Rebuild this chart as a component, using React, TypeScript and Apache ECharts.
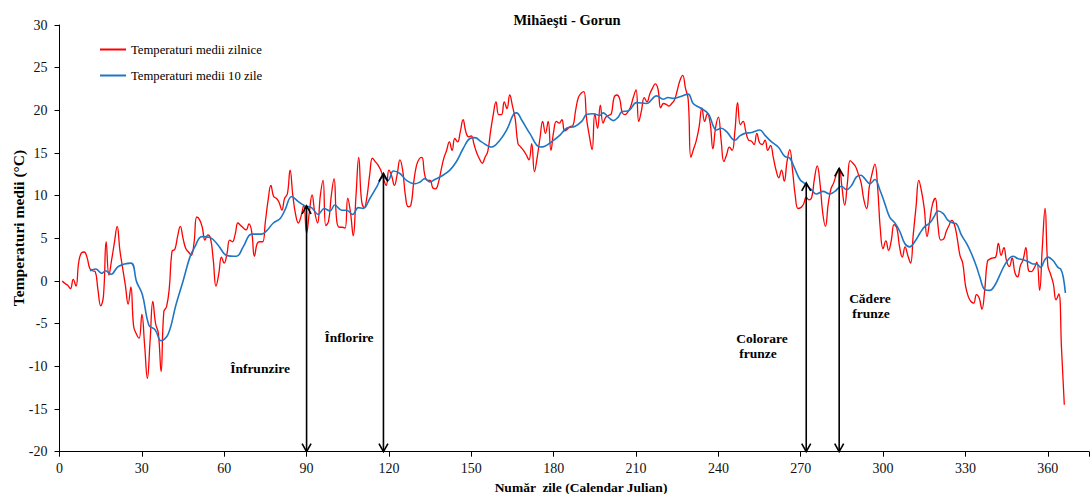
import React, { useEffect, useRef } from "react";
import * as echarts from "echarts";

// Daily mean temperatures, days 1..366
const dailyTemps = [
  0.0, -0.3, -0.5, -0.9, 0.2, -0.6, 2.2, 3.3, 3.4, 2.8,
  1.5, 1.2, 1.1, -1.0, -2.9, -1.8, 4.6, 0.7, 2.5, 4.5,
  6.4, 3.6, 1.5, -0.5, -2.7, -0.7, -5.3, -6.2, -6.7, -3.9,
  -7.5, -11.4, -7.0, -2.4, -5.0, -6.1, -10.6, -3.6, -3.0, -0.8,
  3.5, 3.7, 5.2, 6.4, 5.0, 3.8, 3.4, 3.0, 4.5, 7.5,
  7.2, 6.3, 4.8, 5.4, 5.0, 2.5, -0.6, 0.8, 2.8, 2.1,
  3.2, 4.8, 4.6, 5.5, 6.8, 6.5, 6.2, 6.0, 6.7, 5.8,
  2.9, 4.4, 4.6, 4.6, 7.0, 9.5, 11.2, 9.9, 9.7, 9.2,
  8.3, 9.7, 10.2, 13.0, 10.0, 7.8, 6.8, 7.6, 8.9, 5.6,
  8.0, 10.1, 8.0, 6.8, 10.0, 11.8, 6.5, 7.0, 10.0, 12.0,
  7.0, 6.3, 6.3, 6.2, 9.7, 8.0, 5.3, 10.0, 14.5, 9.5,
  8.6, 9.9, 12.5, 14.4, 14.0, 13.6, 13.0, 12.0, 11.2, 13.0,
  12.3, 11.2, 12.5, 14.2, 13.0, 10.0, 8.7, 8.9, 11.5, 13.5,
  14.3, 14.5, 12.5, 11.8, 11.8, 10.9, 10.8, 11.5, 13.0, 14.4,
  15.3, 16.3, 15.3, 16.7, 16.3, 17.5, 18.9, 17.5, 16.9, 17.0,
  16.0, 15.0, 14.3, 13.8, 14.5, 15.2, 17.5, 19.5, 21.0, 19.5,
  19.5, 21.0, 20.2, 21.8, 20.5, 19.0, 16.1, 15.7, 15.3, 14.8,
  14.2, 16.1, 12.8, 14.5, 16.7, 18.7, 17.3, 18.7, 15.3, 17.5,
  18.7, 18.5, 18.9, 17.6, 17.8, 18.1, 18.2, 20.0, 21.5, 22.0,
  22.2, 19.0, 17.0, 15.4, 19.6, 17.9, 20.6, 18.5, 19.2, 19.4,
  19.6, 21.5, 21.8, 21.4, 19.7, 19.5, 19.8, 20.4, 21.5, 22.4,
  18.7, 20.0, 21.5, 21.0, 21.9, 22.6, 23.1, 22.5, 20.3, 20.8,
  20.7, 20.5, 20.8, 21.2, 22.3, 23.5, 24.1, 22.6, 21.3, 14.5,
  15.5, 16.5, 18.1, 20.3, 18.7, 19.6, 18.5, 15.5, 18.0, 19.2,
  16.5, 14.0, 14.8, 15.7, 15.3, 17.5, 20.9, 18.3, 18.7, 17.5,
  16.5, 16.4, 16.0, 17.3, 16.2, 16.0, 16.5, 15.3, 15.9, 14.5,
  13.0, 12.1, 13.0, 11.7, 14.0, 15.4, 13.0, 10.0, 8.5, 8.6,
  9.0, 9.8, 9.5, 9.8, 12.0, 13.5, 11.5, 8.0, 6.4, 9.0,
  10.8, 11.5, 12.5, 13.2, 11.0, 8.9, 11.5, 14.1, 13.8, 13.4,
  12.5, 11.5, 9.5, 8.5, 11.1, 12.6, 13.7, 11.0, 6.0, 3.8,
  4.7, 3.6, 4.8, 6.6, 6.2, 4.0, 2.8, 4.0, 3.0, 2.1,
  5.5, 8.7, 11.8, 10.5, 8.5, 5.2, 7.1, 9.0, 9.7, 6.5,
  4.8, 4.9, 5.8, 6.5, 7.1, 6.6, 5.0, 3.0, 2.1, -0.5,
  -1.8, -2.4, -2.6, -1.6, -2.0, -3.3, -1.1, 2.3, 2.6, 2.7,
  2.8, 4.4, 3.0, 3.9, 2.3, 1.7, 2.7, 1.0, 0.5, 1.8,
  2.5, 3.9, 1.2, 1.1, 1.5, 2.2, -1.1, 4.0, 8.5, 1.8,
  0.8, -0.3, -2.2, -1.5, -8.0, -14.5,
];

// 10-day mean temperature, read at these days
const avgDays = [
  11.1, 13.2, 15.4, 16.8, 18.8, 21.4, 26.0, 28.1, 30.2, 32.6,
  34.8, 37.0, 39.6, 42.4, 45.1, 47.5, 49.3, 51.8, 54.8, 57.8,
  60.9, 64.5, 66.9, 70.0, 73.6, 75.5, 77.9, 80.3, 82.1, 84.6,
  87.0, 89.4, 91.8, 94.2, 96.4, 98.5, 100.3, 102.8, 104.6, 106.8,
  108.8, 110.6, 113.1, 115.5, 117.9, 119.7, 121.6, 124.0, 126.4, 129.5,
  131.3, 133.1, 134.9, 136.7, 139.2, 142.2, 144.6, 147.0, 149.5, 151.3,
  153.7, 157.4, 160.4, 162.9, 165.5, 166.5, 168.3, 171.3, 175.0, 176.8,
  179.2, 182.3, 184.7, 187.7, 190.2, 192.0, 194.4, 196.8, 198.0, 199.9,
  201.7, 203.5, 204.7, 207.5, 210.2, 213.8, 217.5, 219.9, 221.7, 223.5,
  226.0, 229.0, 230.8, 233.3, 236.3, 239.3, 241.1, 243.0, 246.0, 247.8,
  249.6, 252.1, 255.1, 256.9, 259.4, 261.8, 264.2, 266.0, 267.8, 269.7,
  271.5, 273.9, 275.7, 278.1, 280.6, 282.4, 284.8, 286.7, 288.5, 290.3,
  291.9, 293.3, 295.2, 297.0, 298.8, 300.6, 302.4, 304.3, 306.1, 307.9,
  309.7, 311.5, 313.4, 315.2, 317.0, 318.5, 320.0, 321.9, 323.7, 325.5,
  326.7, 328.5, 330.4, 332.2, 334.0, 335.2, 337.0, 338.8, 340.7, 342.5,
  344.3, 346.1, 347.3, 349.2, 351.0, 352.8, 354.6, 355.9, 357.4, 358.9,
  360.1, 361.9, 363.7, 364.7, 365.6, 366.4,
];
const avgTemps = [
  1.2, 1.4, 0.9, 1.2, 0.8, 1.7, 2.1, -0.1, -1.6, -5.2,
  -5.7, -7.0, -6.2, -2.8, 0.1, 2.8, 4.0, 5.2, 5.1, 4.2,
  3.0, 2.9, 4.0, 5.5, 5.5, 5.9, 6.8, 7.3, 8.3, 9.9,
  9.3, 8.8, 8.6, 7.8, 8.5, 8.2, 8.9, 8.3, 8.3, 7.8,
  8.6, 8.5, 9.7, 11.0, 12.2, 11.8, 12.9, 12.6, 11.8, 11.4,
  11.6, 12.0, 11.6, 11.9, 12.3, 13.0, 14.0, 15.5, 16.7, 16.8,
  16.3, 15.7, 16.5, 17.7, 19.6, 19.7, 18.9, 17.3, 15.7, 15.8,
  16.3, 17.1, 17.9, 18.1, 18.7, 19.5, 19.6, 19.4, 19.7, 19.2,
  18.8, 19.2, 19.8, 20.0, 20.9, 20.8, 21.7, 21.3, 21.5, 21.4,
  21.6, 21.9, 20.8, 20.3, 19.6, 17.7, 17.9, 17.5, 16.5, 17.0,
  17.3, 17.4, 17.7, 17.1, 16.3, 15.7, 14.6, 14.4, 13.2, 11.9,
  11.4, 10.7, 10.2, 10.5, 10.2, 10.5, 11.1, 10.7, 11.2, 12.2,
  12.4, 12.0, 11.4, 11.9, 10.7, 9.1, 7.5, 6.8, 5.8, 4.4,
  4.0, 4.6, 5.6, 6.4, 6.8, 7.5, 8.2, 7.9, 7.1, 6.8,
  6.7, 5.4, 4.4, 3.2, 1.7, 0.5, -1.0, -1.1, -0.5, 0.7,
  1.9, 2.7, 2.9, 2.6, 2.5, 2.3, 2.0, 2.0, 1.6, 2.5,
  2.8, 2.4, 1.6, 1.4, 0.5, -1.4,
];

// Phenological stages (arrow days and arrow tip temperatures)
const stageDays = [90, 118, 272, 284];
const stageTemps = [8.8, 12.6, 11.5, 13.2];

const FONT = '"Liberation Serif", "Times New Roman", serif';

export default function App() {
  const ref = useRef<HTMLDivElement>(null);

  useEffect(() => {
    if (!ref.current) return;
    const chart = echarts.init(ref.current, undefined, { renderer: "svg" });

    const redData = dailyTemps.map((v, i) => [i + 1, v]);
    const blueData = avgDays.map((d, i) => [d, avgTemps[i]]);
    const arrowData = stageDays.map((d, i) => [d, stageTemps[i]]);

    const txt = (text: string, x: number, y: number, size: number, bold = true, rotation = 0) => ({
      type: "text",
      x,
      y,
      rotation,
      silent: true,
      style: {
        text,
        font: `${bold ? "bold " : ""}${size}px ${FONT}`,
        fill: "#000",
        align: "center",
        verticalAlign: "middle",
        textAlign: "center",
        textVerticalAlign: "middle",
      },
    });

    chart.setOption({
      animation: false,
      backgroundColor: "#ffffff",
      grid: { left: 59.5, right: 2, top: 25, bottom: 42.3, containLabel: false },
      legend: {
        data: ["Temperaturi medii zilnice", "Temperaturi medii 10 zile"],
        orient: "vertical",
        left: 95,
        top: 38,
        itemGap: 13,
        itemWidth: 26,
        itemHeight: 2,
        icon: "rect",
        textStyle: { fontFamily: FONT, fontSize: 12.7, color: "#000" },
        selectedMode: false,
      },
      xAxis: {
        type: "value",
        min: 0,
        max: 375,
        interval: 30,
        axisLine: { onZero: false, lineStyle: { color: "#000", width: 1 } },
        axisTick: { show: true, inside: false, length: 5, lineStyle: { color: "#000" } },
        splitLine: { show: false },
        axisLabel: {
          formatter: (v: number) => (v % 30 === 0 && v <= 360 ? String(v) : ""),
          fontFamily: FONT,
          fontSize: 14,
          color: "#111",
          margin: 10,
        },
      },
      yAxis: {
        type: "value",
        min: -20,
        max: 30,
        interval: 5,
        axisLine: { show: true, onZero: false, lineStyle: { color: "#000", width: 1 } },
        axisTick: { show: true, inside: false, length: 5, lineStyle: { color: "#000" } },
        splitLine: { show: false },
        axisLabel: { fontFamily: FONT, fontSize: 14, color: "#111", margin: 12 },
      },
      series: [
        {
          name: "Temperaturi medii zilnice",
          type: "line",
          data: redData,
          symbol: "none",
          smooth: 0.45,
          lineStyle: { color: "#FF0000", width: 1.3 },
          itemStyle: { color: "#FF0000" },
          z: 2,
        },
        {
          name: "Temperaturi medii 10 zile",
          type: "line",
          data: blueData,
          symbol: "none",
          smooth: 0.4,
          lineStyle: { color: "#1F77C4", width: 1.6 },
          itemStyle: { color: "#1F77C4" },
          z: 3,
        },
        {
          type: "custom",
          silent: true,
          z: 4,
          data: arrowData,
          renderItem: (params: any, api: any) => {
            const x = api.value(0);
            const y = api.value(1);
            const top = api.coord([x, y]);
            const bot = api.coord([x, -20]);
            const hw = 4.5;
            const hl = 8;
            const stroke = { stroke: "#000", lineWidth: 1.6, fill: "none" };
            return {
              type: "group",
              children: [
                { type: "line", shape: { x1: top[0], y1: top[1], x2: bot[0], y2: bot[1] }, style: stroke },
                {
                  type: "polyline",
                  shape: { points: [[top[0] - hw, top[1] + hl], [top[0], top[1]], [top[0] + hw, top[1] + hl]] },
                  style: stroke,
                },
                {
                  type: "polyline",
                  shape: { points: [[bot[0] - hw, bot[1] - hl], [bot[0], bot[1]], [bot[0] + hw, bot[1] - hl]] },
                  style: stroke,
                },
              ],
            };
          },
        },
      ],
      graphic: [
        txt("Mihăeşti - Gorun", 567, 20, 14.5),
        txt("Temperaturi medii (°C)", 18, 228, 15.5, true, Math.PI / 2),
        txt("Număr  zile (Calendar Julian)", 581, 487, 13.5),
        txt("Înfrunzire", 260, 368, 13.5),
        txt("Înflorire", 349, 337, 13.5),
        txt("Colorare", 762, 338, 13.5),
        txt("frunze", 758, 353, 13.5),
        txt("Cădere", 870, 298, 13.5),
        txt("frunze", 871, 313, 13.5),
      ],
    });

    return () => chart.dispose();
  }, []);

  return (
    <div
      ref={ref}
      style={{ position: "fixed", left: 0, top: 0, width: 1092, height: 494, background: "#fff" }}
    />
  );
}
